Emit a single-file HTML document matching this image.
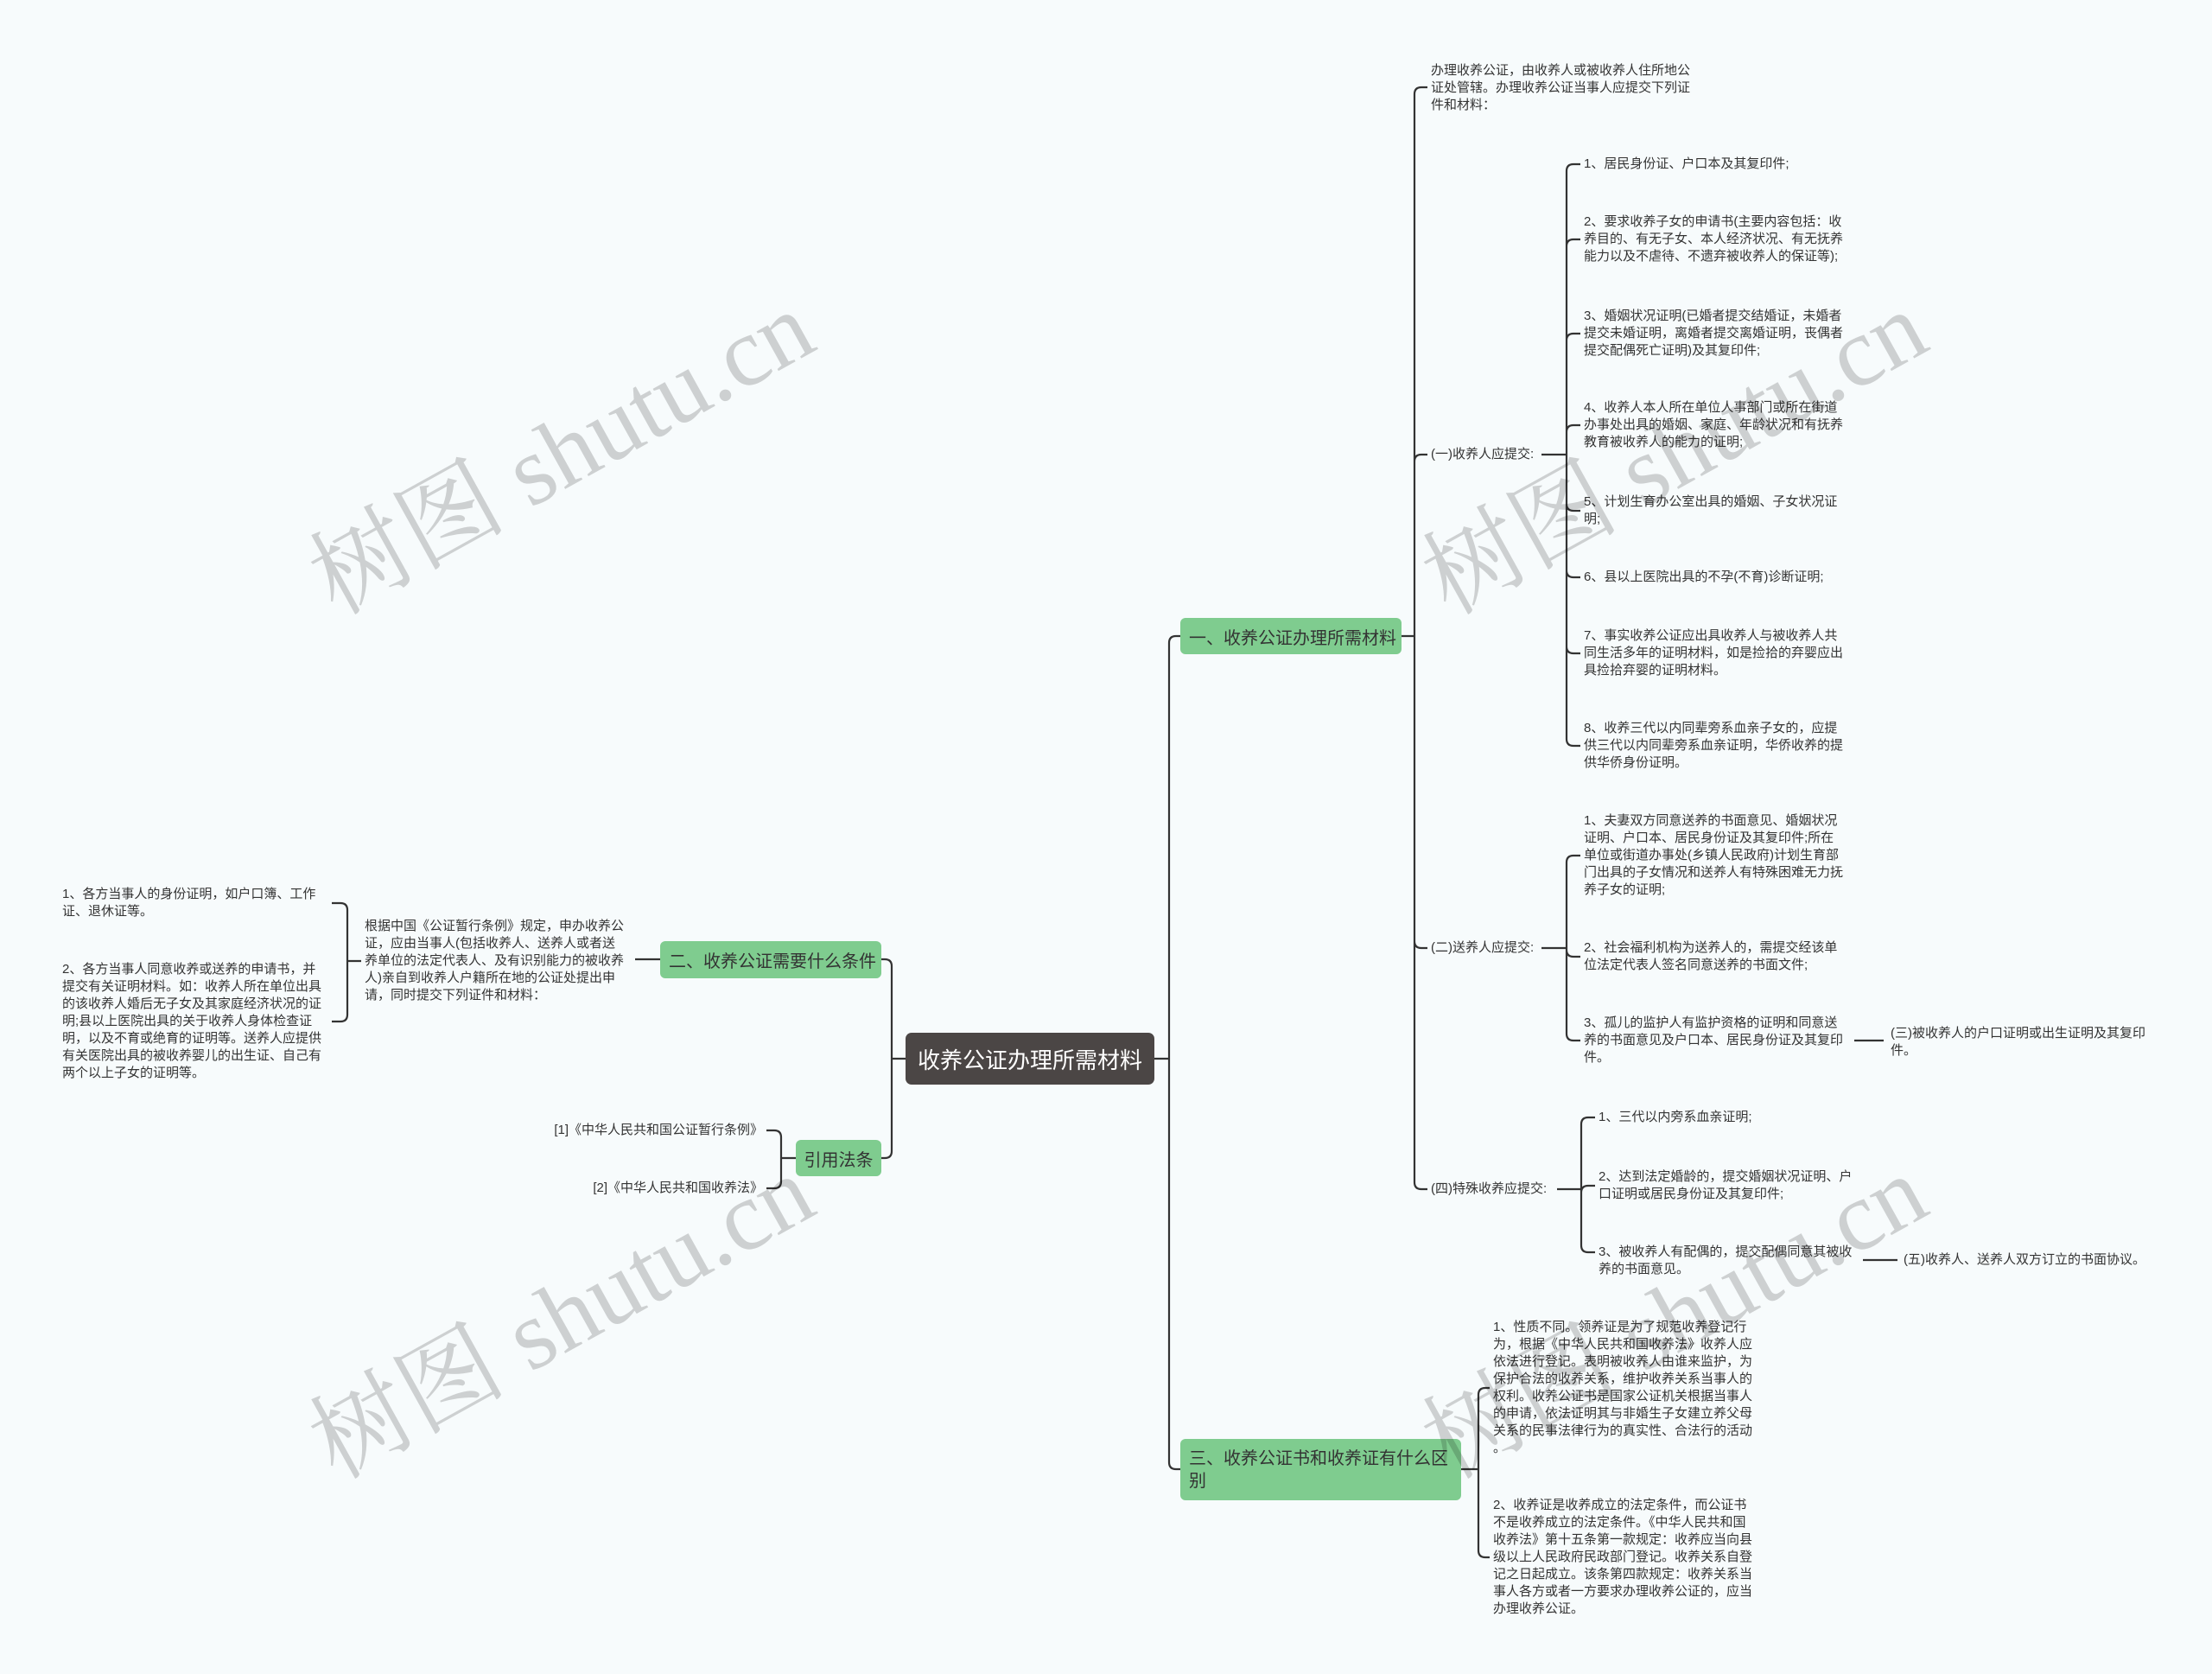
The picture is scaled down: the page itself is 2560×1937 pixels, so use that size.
<!DOCTYPE html>
<html><head><meta charset="utf-8">
<style>
body{margin:0;width:2560px;height:1937px;background:#f7fbfc;position:relative;overflow:hidden;font-family:"Liberation Sans","Noto Sans CJK SC",sans-serif;color:#333}
.t{position:absolute;font-size:15px;line-height:20px;white-space:nowrap}
.n{position:absolute;background:#7fcc8f;border-radius:6px;font-size:20px;color:#333;box-sizing:border-box;padding:0 10px;display:flex;align-items:center;white-space:nowrap}
.root{position:absolute;left:1048px;top:1195px;width:288px;height:60px;background:#4b4645;border-radius:7px;color:#fff;font-size:26px;display:flex;align-items:center;justify-content:center}
.wm{position:absolute;font-family:"Liberation Serif","Noto Serif CJK SC",serif;font-size:114px;color:rgba(0,0,0,0.17);white-space:nowrap;transform:translate(-50%,-50%) rotate(-29deg)}
svg{position:absolute;left:0;top:0}
</style></head><body>
<svg id="s" width="2560" height="1937"></svg>

<div class="root">收养公证办理所需材料</div>
<div class="n" style="left:1366px;top:715px;width:256px;height:42px">一、收养公证办理所需材料</div>
<div class="n" style="left:764px;top:1089px;width:256px;height:43px">二、收养公证需要什么条件</div>
<div class="n" style="left:921px;top:1319px;width:99px;height:42px;justify-content:center">引用法条</div>
<div class="n" style="left:1366px;top:1665px;width:325px;height:71px;line-height:26px;white-space:normal">三、收养公证书和收养证有什么区别</div>

<div class="t" style="left:1656px;top:72px">办理收养公证，由收养人或被收养人住所地公<br>证处管辖。办理收养公证当事人应提交下列证<br>件和材料：</div>
<div class="t" style="left:1656px;top:516px">(一)收养人应提交:</div>
<div class="t" style="left:1656px;top:1087px">(二)送养人应提交:</div>
<div class="t" style="left:1656px;top:1366px">(四)特殊收养应提交:</div>

<div class="t" style="left:1833px;top:180px">1、居民身份证、户口本及其复印件;</div>
<div class="t" style="left:1833px;top:247px">2、要求收养子女的申请书(主要内容包括：收<br>养目的、有无子女、本人经济状况、有无抚养<br>能力以及不虐待、不遗弃被收养人的保证等);</div>
<div class="t" style="left:1833px;top:356px">3、婚姻状况证明(已婚者提交结婚证，未婚者<br>提交未婚证明，离婚者提交离婚证明，丧偶者<br>提交配偶死亡证明)及其复印件;</div>
<div class="t" style="left:1833px;top:462px">4、收养人本人所在单位人事部门或所在街道<br>办事处出具的婚姻、家庭、年龄状况和有抚养<br>教育被收养人的能力的证明;</div>
<div class="t" style="left:1833px;top:571px">5、计划生育办公室出具的婚姻、子女状况证<br>明;</div>
<div class="t" style="left:1833px;top:658px">6、县以上医院出具的不孕(不育)诊断证明;</div>
<div class="t" style="left:1833px;top:726px">7、事实收养公证应出具收养人与被收养人共<br>同生活多年的证明材料，如是捡拾的弃婴应出<br>具捡拾弃婴的证明材料。</div>
<div class="t" style="left:1833px;top:833px">8、收养三代以内同辈旁系血亲子女的，应提<br>供三代以内同辈旁系血亲证明，华侨收养的提<br>供华侨身份证明。</div>

<div class="t" style="left:1833px;top:940px">1、夫妻双方同意送养的书面意见、婚姻状况<br>证明、户口本、居民身份证及其复印件;所在<br>单位或街道办事处(乡镇人民政府)计划生育部<br>门出具的子女情况和送养人有特殊困难无力抚<br>养子女的证明;</div>
<div class="t" style="left:1833px;top:1087px">2、社会福利机构为送养人的，需提交经该单<br>位法定代表人签名同意送养的书面文件;</div>
<div class="t" style="left:1833px;top:1174px">3、孤儿的监护人有监护资格的证明和同意送<br>养的书面意见及户口本、居民身份证及其复印<br>件。</div>
<div class="t" style="left:2188px;top:1186px">(三)被收养人的户口证明或出生证明及其复印<br>件。</div>

<div class="t" style="left:1850px;top:1283px">1、三代以内旁系血亲证明;</div>
<div class="t" style="left:1850px;top:1352px">2、达到法定婚龄的，提交婚姻状况证明、户<br>口证明或居民身份证及其复印件;</div>
<div class="t" style="left:1850px;top:1439px">3、被收养人有配偶的，提交配偶同意其被收<br>养的书面意见。</div>
<div class="t" style="left:2203px;top:1448px">(五)收养人、送养人双方订立的书面协议。</div>

<div class="t" style="left:1728px;top:1526px">1、性质不同。领养证是为了规范收养登记行<br>为，根据《中华人民共和国收养法》收养人应<br>依法进行登记。表明被收养人由谁来监护，为<br>保护合法的收养关系，维护收养关系当事人的<br>权利。收养公证书是国家公证机关根据当事人<br>的申请，依法证明其与非婚生子女建立养父母<br>关系的民事法律行为的真实性、合法行的活动<br>。</div>
<div class="t" style="left:1728px;top:1732px">2、收养证是收养成立的法定条件，而公证书<br>不是收养成立的法定条件。《中华人民共和国<br>收养法》第十五条第一款规定：收养应当向县<br>级以上人民政府民政部门登记。收养关系自登<br>记之日起成立。该条第四款规定：收养关系当<br>事人各方或者一方要求办理收养公证的，应当<br>办理收养公证。</div>

<div class="t" style="left:422px;top:1062px">根据中国《公证暂行条例》规定，申办收养公<br>证，应由当事人(包括收养人、送养人或者送<br>养单位的法定代表人、及有识别能力的被收养<br>人)亲自到收养人户籍所在地的公证处提出申<br>请，同时提交下列证件和材料：</div>
<div class="t" style="left:72px;top:1025px">1、各方当事人的身份证明，如户口簿、工作<br>证、退休证等。</div>
<div class="t" style="left:72px;top:1112px">2、各方当事人同意收养或送养的申请书，并<br>提交有关证明材料。如：收养人所在单位出具<br>的该收养人婚后无子女及其家庭经济状况的证<br>明;县以上医院出具的关于收养人身体检查证<br>明，以及不育或绝育的证明等。送养人应提供<br>有关医院出具的被收养婴儿的出生证、自己有<br>两个以上子女的证明等。</div>
<div class="t" style="left:597px;top:1298px;width:286px;text-align:right">[1]《中华人民共和国公证暂行条例》</div>
<div class="t" style="left:597px;top:1365px;width:286px;text-align:right">[2]《中华人民共和国收养法》</div>

<div class="wm" style="left:645px;top:515px">树图 shutu.cn</div>
<div class="wm" style="left:1933px;top:515px">树图 shutu.cn</div>
<div class="wm" style="left:645px;top:1515px">树图 shutu.cn</div>
<div class="wm" style="left:1933px;top:1515px">树图 shutu.cn</div>

<script>
var s=document.getElementById('s'),d='';
function b(px,py,sx,cx,cy){var r=8,dir=cx>sx?1:-1;
 if(Math.abs(cy-py)<1){d+='M'+px+' '+py+'H'+cx;return;}
 var v=cy>py?1:-1;
 d+='M'+px+' '+py+'H'+sx+'V'+(cy-v*r)+'Q'+sx+' '+cy+' '+(sx+dir*r)+' '+cy+'H'+cx;}
b(1336,1225,1353,1366,736);b(1336,1225,1353,1366,1700);
b(1048,1225,1032,1020,1110);b(1048,1225,1032,1020,1340);
[101,526,1097,1376].forEach(function(y){b(1622,736,1637,1652,y)});
[190,277,386,492,591,668,756,863].forEach(function(y){b(1784,526,1813,1829,y)});
[990,1107,1204].forEach(function(y){b(1784,1097,1813,1829,y)});
b(2146,1204,2146,2180,1204);
[1293,1372,1449].forEach(function(y){b(1802,1376,1830,1846,y)});
b(2156,1458,2156,2196,1458);
[1606,1802].forEach(function(y){b(1691,1700,1711,1724,y)});
b(764,1110,750,735,1110);
[1045,1182].forEach(function(y){b(418,1112,402,384,y)});
[1308,1375].forEach(function(y){b(921,1340,904,887,y)});
s.innerHTML='<path d="'+d+'" fill="none" stroke="#333" stroke-width="2.2"/>';
</script>
</body></html>
